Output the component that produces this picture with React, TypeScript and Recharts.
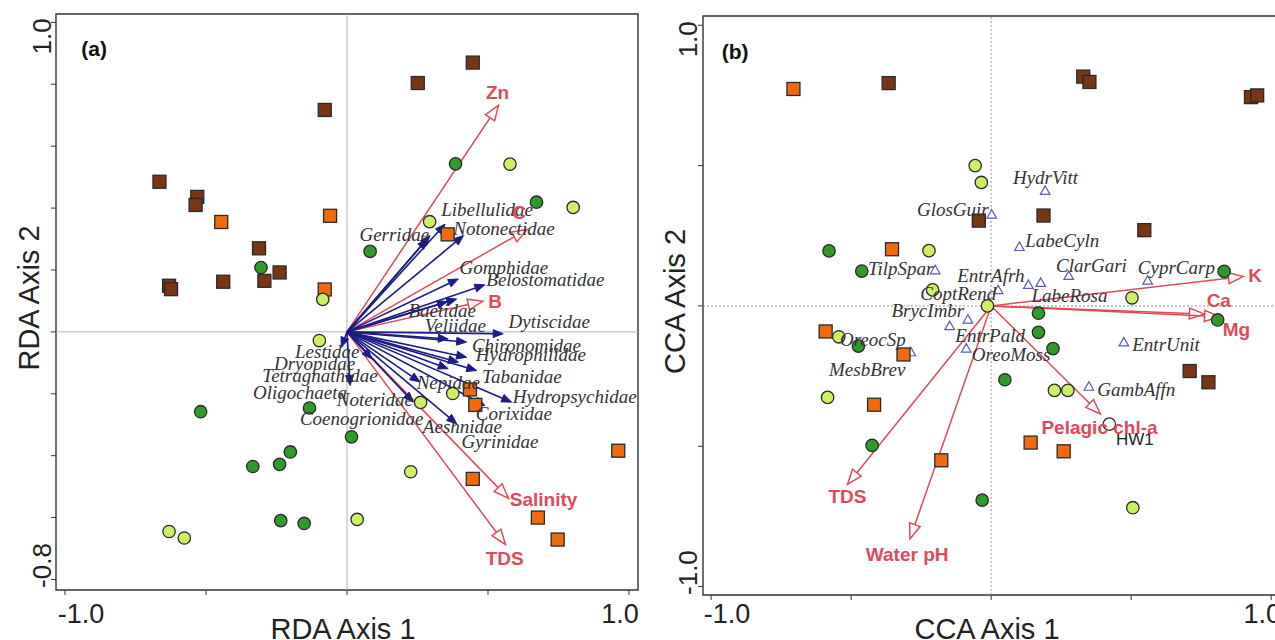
import React from 'react';
import { ScatterChart, Scatter, XAxis, YAxis, ReferenceLine, ReferenceArea } from 'recharts';

type Pt = { x: number; y: number };
type Lbl = { name: string; x: number; y: number; anchor?: 'start' | 'middle' | 'end' };

const SERIF = "'Liberation Serif', 'Times New Roman', serif";
const SANS = "'Liberation Sans', Arial, sans-serif";

const BROWN = '#7a3514';
const ORANGE = '#f26a0e';
const GREEN = '#2f9a2a';
const LIME = '#cdef66';
const NAVY = '#1c1c86';
const RED = '#e04a58';

// ---------- (a) RDA ----------
const rdaBrown: Pt[] = [
  { x: 0.446, y: 0.87 }, { x: 0.251, y: 0.804 }, { x: -0.079, y: 0.717 }, { x: -0.665, y: 0.485 },
  { x: -0.531, y: 0.436 }, { x: -0.537, y: 0.41 }, { x: -0.312, y: 0.27 }, { x: -0.239, y: 0.192 },
  { x: -0.293, y: 0.165 }, { x: -0.439, y: 0.162 }, { x: -0.631, y: 0.149 }, { x: -0.624, y: 0.138 },
];
const rdaOrange: Pt[] = [
  { x: -0.446, y: 0.355 }, { x: -0.06, y: 0.375 }, { x: -0.079, y: 0.137 }, { x: 0.357, y: 0.315 },
  { x: 0.436, y: -0.186 }, { x: 0.455, y: -0.236 }, { x: 0.962, y: -0.384 }, { x: 0.446, y: -0.475 },
  { x: 0.677, y: -0.6 }, { x: 0.747, y: -0.671 },
];
const rdaGreen: Pt[] = [
  { x: 0.385, y: 0.543 }, { x: 0.672, y: 0.419 }, { x: 0.082, y: 0.26 }, { x: -0.305, y: 0.208 },
  { x: -0.519, y: -0.258 }, { x: -0.133, y: -0.246 }, { x: 0.016, y: -0.339 }, { x: -0.201, y: -0.388 },
  { x: -0.334, y: -0.435 }, { x: -0.239, y: -0.428 }, { x: -0.235, y: -0.61 }, { x: -0.152, y: -0.619 },
];
const rdaLime: Pt[] = [
  { x: 0.578, y: 0.542 }, { x: 0.802, y: 0.402 }, { x: 0.293, y: 0.356 }, { x: -0.086, y: 0.105 },
  { x: -0.098, y: -0.028 }, { x: 0.375, y: -0.199 }, { x: 0.261, y: -0.228 }, { x: 0.226, y: -0.452 },
  { x: 0.036, y: -0.606 }, { x: -0.631, y: -0.645 }, { x: -0.577, y: -0.666 },
];
const rdaSpeciesTips: Pt[] = [
  { x: 0.348, y: 0.348 }, { x: 0.294, y: 0.311 }, { x: 0.285, y: 0.3 }, { x: 0.413, y: 0.311 },
  { x: 0.395, y: 0.171 }, { x: 0.489, y: 0.152 }, { x: 0.389, y: 0.106 }, { x: 0.356, y: 0.098 },
  { x: 0.554, y: -0.006 }, { x: 0.359, y: -0.023 }, { x: 0.424, y: -0.033 }, { x: 0.424, y: -0.082 },
  { x: 0.395, y: -0.098 }, { x: 0.46, y: -0.125 }, { x: 0.359, y: -0.119 }, { x: 0.259, y: -0.162 },
  { x: 0.584, y: -0.227 }, { x: 0.489, y: -0.238 }, { x: 0.235, y: -0.227 }, { x: 0.389, y: -0.297 },
  { x: 0.088, y: -0.087 }, { x: 0.011, y: -0.173 }, { x: -0.02, y: -0.05 },
];
const rdaSpeciesLabels: Lbl[] = [
  { name: 'Libellulidae', x: 0.334, y: 0.396 }, { name: 'Notonectidae', x: 0.377, y: 0.335 },
  { name: 'Gerridae', x: 0.044, y: 0.315 }, { name: 'Gomphidae', x: 0.399, y: 0.207 },
  { name: 'Belostomatidae', x: 0.494, y: 0.168 }, { name: 'Baetidae', x: 0.218, y: 0.069 },
  { name: 'Veliidae', x: 0.276, y: 0.022 }, { name: 'Dytiscidae', x: 0.573, y: 0.033 },
  { name: 'Chironomidae', x: 0.443, y: -0.044 }, { name: 'Hydrophilidae', x: 0.457, y: -0.074 },
  { name: 'Tabanidae', x: 0.479, y: -0.145 }, { name: 'Nepidae', x: 0.247, y: -0.162 },
  { name: 'Hydropsychidae', x: 0.588, y: -0.208 }, { name: 'Corixidae', x: 0.457, y: -0.265 },
  { name: 'Aeshnidae', x: 0.269, y: -0.305 }, { name: 'Gyrinidae', x: 0.406, y: -0.354 },
  { name: 'Lestidae', x: 0.044, y: -0.063, anchor: 'end' }, { name: 'Dryopidae', x: 0.029, y: -0.103, anchor: 'end' },
  { name: 'Tetragnathidae', x: 0.109, y: -0.142, anchor: 'end' }, { name: 'Oligochaeta', x: 0.0, y: -0.195, anchor: 'end' },
  { name: 'Noteridae', x: -0.036, y: -0.218 }, { name: 'Coenogrionidae', x: -0.167, y: -0.281 },
];
const rdaEnvTips: Pt[] = [
  { x: 0.537, y: 0.732 }, { x: 0.639, y: 0.331 }, { x: 0.482, y: 0.099 }, { x: 0.573, y: -0.538 }, { x: 0.562, y: -0.687 },
];
const rdaEnvLabels: Lbl[] = [
  { name: 'Zn', x: 0.534, y: 0.774, anchor: 'middle' }, { name: 'C', x: 0.61, y: 0.385, anchor: 'middle' },
  { name: 'B', x: 0.525, y: 0.099, anchor: 'middle' }, { name: 'Salinity', x: 0.697, y: -0.542, anchor: 'middle' },
  { name: 'TDS', x: 0.559, y: -0.732, anchor: 'middle' },
];
const rdaTag: Lbl[] = [{ name: '(a)', x: -0.897, y: 0.917, anchor: 'middle' }];
const rdaYTicks = [-0.8, -0.6, -0.4, -0.2, 0, 0.2, 0.4, 0.6, 0.8, 1.0];

// ---------- (b) CCA ----------
const ccaBrown: Pt[] = [
  { x: -0.366, y: 0.794 }, { x: 0.329, y: 0.817 }, { x: 0.351, y: 0.798 }, { x: 0.928, y: 0.744 },
  { x: 0.95, y: 0.75 }, { x: 0.187, y: 0.322 }, { x: -0.044, y: 0.304 }, { x: 0.547, y: 0.27 },
  { x: 0.709, y: -0.232 }, { x: 0.776, y: -0.272 },
];
const ccaOrange: Pt[] = [
  { x: -0.706, y: 0.773 }, { x: -0.354, y: 0.202 }, { x: -0.591, y: -0.091 }, { x: -0.313, y: -0.173 },
  { x: -0.418, y: -0.352 }, { x: -0.178, y: -0.55 }, { x: 0.141, y: -0.487 }, { x: 0.259, y: -0.518 },
];
const ccaGreen: Pt[] = [
  { x: -0.579, y: 0.196 }, { x: -0.462, y: 0.124 }, { x: -0.474, y: -0.143 }, { x: -0.425, y: -0.497 },
  { x: -0.032, y: -0.692 }, { x: 0.049, y: -0.263 }, { x: 0.169, y: -0.026 }, { x: 0.169, y: -0.094 },
  { x: 0.221, y: -0.152 }, { x: 0.832, y: 0.123 }, { x: 0.809, y: -0.05 },
];
const ccaLime: Pt[] = [
  { x: -0.057, y: 0.5 }, { x: -0.035, y: 0.44 }, { x: -0.222, y: 0.197 }, { x: -0.209, y: 0.057 },
  { x: -0.013, y: 0.0 }, { x: -0.544, y: -0.11 }, { x: -0.584, y: -0.326 }, { x: 0.226, y: -0.301 },
  { x: 0.274, y: -0.301 }, { x: 0.503, y: 0.029 }, { x: 0.506, y: -0.719 },
];
const ccaOpen: Pt[] = [{ x: 0.422, y: -0.421 }];
const ccaFish: Pt[] = [
  { x: 0.193, y: 0.41 }, { x: 0.002, y: 0.325 }, { x: 0.101, y: 0.21 }, { x: 0.277, y: 0.107 },
  { x: 0.559, y: 0.09 }, { x: -0.2, y: 0.127 }, { x: 0.025, y: 0.056 }, { x: 0.133, y: 0.075 },
  { x: 0.177, y: 0.082 }, { x: -0.083, y: -0.049 }, { x: -0.148, y: -0.072 }, { x: -0.089, y: -0.152 },
  { x: -0.287, y: -0.165 }, { x: 0.474, y: -0.13 }, { x: 0.349, y: -0.288 },
];
const ccaFishLabels: Lbl[] = [
  { name: 'HydrVitt', x: 0.078, y: 0.459 }, { name: 'GlosGuir', x: -0.265, y: 0.342 },
  { name: 'LabeCyln', x: 0.122, y: 0.232 }, { name: 'ClarGari', x: 0.232, y: 0.145 },
  { name: 'CyprCarp', x: 0.524, y: 0.137 }, { name: 'TilpSpar', x: -0.44, y: 0.134 },
  { name: 'EntrAfrh', x: -0.121, y: 0.11 }, { name: 'CoptRend', x: -0.253, y: 0.044 },
  { name: 'LabeRosa', x: 0.144, y: 0.037 }, { name: 'BrycImbr', x: -0.356, y: -0.015 },
  { name: 'EntrPald', x: -0.128, y: -0.107 }, { name: 'OreoMoss', x: -0.069, y: -0.173 },
  { name: 'OreocSp', x: -0.54, y: -0.121 }, { name: 'MesbBrev', x: -0.579, y: -0.228 },
  { name: 'EntrUnit', x: 0.504, y: -0.136 }, { name: 'GambAffn', x: 0.379, y: -0.297 },
];
const ccaSiteLabels: Lbl[] = [{ name: 'HW1', x: 0.446, y: -0.477 }];
const ccaEnvTips: Pt[] = [
  { x: 0.901, y: 0.105 }, { x: 0.762, y: -0.029 }, { x: 0.816, y: -0.038 },
  { x: 0.39, y: -0.385 }, { x: -0.513, y: -0.636 }, { x: -0.29, y: -0.83 },
];
const ccaEnvLabels: Lbl[] = [
  { name: 'K', x: 0.943, y: 0.108, anchor: 'middle' }, { name: 'Ca', x: 0.813, y: 0.02, anchor: 'middle' },
  { name: 'Mg', x: 0.876, y: -0.085, anchor: 'middle' }, { name: 'Pelagic chl-a', x: 0.387, y: -0.433, anchor: 'middle' },
  { name: 'TDS', x: -0.513, y: -0.68, anchor: 'middle' }, { name: 'Water pH', x: -0.3, y: -0.885, anchor: 'middle' },
];
const ccaTag: Lbl[] = [{ name: '(b)', x: -0.914, y: 0.906, anchor: 'middle' }];
const ccaYTicks = [-1.0, -0.5, 0, 0.5, 1.0];
const xTicks = [-1.0, -0.5, 0, 0.5, 1.0];

// ---------- shapes ----------
const square = (fill: string) => (p: any) => (
  <rect x={p.cx - 6.5} y={p.cy - 6.5} width={13} height={13} fill={fill} stroke="#2a2a2a" strokeWidth={1.3} />
);
const dot = (fill: string) => (p: any) => (
  <circle cx={p.cx} cy={p.cy} r={6.2} fill={fill} stroke="#2a2a2a" strokeWidth={1.3} />
);
const triangle = (p: any) => (
  <polygon
    points={`${p.cx},${p.cy - 5} ${p.cx - 4.8},${p.cy + 3.5} ${p.cx + 4.8},${p.cy + 3.5}`}
    fill="#fff"
    stroke="#5a5ab4"
    strokeWidth={1.2}
  />
);
const textShape = (style: any) => (p: any) => (
  <text x={p.cx} y={p.cy} textAnchor={p.payload.anchor ?? 'start'} dominantBaseline="central" {...style}>
    {p.payload.name}
  </text>
);
const speciesText = textShape({ fontFamily: SERIF, fontStyle: 'italic', fontSize: 19, fill: '#333' });
const envText = textShape({ fontFamily: SANS, fontWeight: 'bold', fontSize: 19, fill: RED });
const tagText = textShape({ fontFamily: SANS, fontWeight: 'bold', fontSize: 21, fill: '#111' });
const plainText = textShape({ fontFamily: SANS, fontSize: 17, fill: '#222' });

const arrow = (kind: 'species' | 'env') => (p: any) => {
  const { x1, y1, x2, y2 } = p;
  const a = Math.atan2(y2 - y1, x2 - x1);
  const len = kind === 'env' ? 15 : 10;
  const hw = kind === 'env' ? 5.5 : 4;
  const bx = x2 - len * Math.cos(a);
  const by = y2 - len * Math.sin(a);
  const nx = -Math.sin(a) * hw;
  const ny = Math.cos(a) * hw;
  const head = `${x2},${y2} ${bx + nx},${by + ny} ${bx - nx},${by - ny}`;
  if (kind === 'env') {
    return (
      <g>
        <line x1={x1} y1={y1} x2={bx} y2={by} stroke={RED} strokeWidth={1.5} />
        <polygon points={head} fill="#fff" stroke={RED} strokeWidth={1.5} />
      </g>
    );
  }
  return (
    <g>
      <line x1={x1} y1={y1} x2={bx} y2={by} stroke={NAVY} strokeWidth={1.6} />
      <polygon points={head} fill={NAVY} stroke={NAVY} strokeWidth={1} />
    </g>
  );
};
const speciesArrow = arrow('species');
const envArrow = arrow('env');

const makeXTick = (baseline: number) => (p: any) => {
  const v = p.payload.value;
  if (v !== -1 && v !== 1) return <g />;
  const dx = v === -1 ? 16 : -9;
  return (
    <text x={p.x + dx} y={baseline} textAnchor="middle" fontSize={27} fontFamily={SANS} fill="#222">
      {v.toFixed(1)}
    </text>
  );
};
const makeYTick = (lo: number, hi: number, baselineX: number) => (p: any) => {
  const v = p.payload.value;
  if (v !== lo && v !== hi) return <g />;
  const shift = v === hi ? 14 : -14;
  return (
    <text
      transform={`translate(${baselineX},${p.y + shift}) rotate(-90)`}
      textAnchor="middle"
      fontSize={26}
      fontFamily={SANS}
      fill="#222"
    >
      {v.toFixed(1)}
    </text>
  );
};

type PanelProps = {
  width: number;
  margin: { top: number; right: number; bottom: number; left: number };
  yAxisWidth: number;
  xAxisHeight: number;
  xDomain: [number, number];
  yDomain: [number, number];
  yTicks: number[];
  xTitle: string;
  yTitle: string;
  dashed: boolean;
  tickBaseline: number;
  yTickX: number;
  yTitleX: number;
  envTips: Pt[];
  speciesTips: Pt[];
  brown: Pt[];
  orange: Pt[];
  green: Pt[];
  lime: Pt[];
  open: Pt[];
  fish: Pt[];
  speciesLabels: Lbl[];
  envLabels: Lbl[];
  siteLabels: Lbl[];
  tag: Lbl[];
};

function Biplot(P: PanelProps) {
  const zeroStroke = P.dashed ? { stroke: '#9a9a9a', strokeDasharray: '2 2' } : { stroke: '#b5b5b5' };
  return (
    <ScatterChart width={P.width} height={640} margin={P.margin}>
      <XAxis
        type="number"
        dataKey="x"
        domain={P.xDomain}
        ticks={xTicks}
        allowDataOverflow
        axisLine={false}
        tickSize={5}
        tickLine={{ stroke: '#333' }}
        tick={makeXTick(P.tickBaseline)}
        height={P.xAxisHeight}
        label={{
          content: (l: any) => {
            const vb = l.viewBox || { x: 0, y: 0, width: 0 };
            return (
              <text x={vb.x + vb.width / 2 - 4} y={639} textAnchor="middle" fontSize={29} fontFamily={SANS} fill="#222">
                {P.xTitle}
              </text>
            );
          },
        }}
      />
      <YAxis
        type="number"
        dataKey="y"
        domain={P.yDomain}
        ticks={P.yTicks}
        allowDataOverflow
        axisLine={false}
        tickSize={5}
        tickLine={{ stroke: '#333' }}
        tick={makeYTick(P.yTicks[0], P.yTicks[P.yTicks.length - 1], P.yTickX)}
        width={P.yAxisWidth}
        label={{
          content: (l: any) => {
            const vb = l.viewBox || { x: 0, y: 0, height: 0 };
            return (
              <text
                transform={`translate(${P.yTitleX},${vb.y + vb.height / 2 - 4}) rotate(-90)`}
                textAnchor="middle"
                fontSize={29}
                fontFamily={SANS}
                fill="#222"
              >
                {P.yTitle}
              </text>
            );
          },
        }}
      />
      <ReferenceArea
        x1={P.xDomain[0]}
        x2={P.xDomain[1]}
        y1={P.yDomain[0]}
        y2={P.yDomain[1]}
        fill="none"
        fillOpacity={0}
        stroke="#333"
        strokeWidth={1.4}
        ifOverflow="visible"
      />
      <ReferenceLine x={0} strokeWidth={1} {...zeroStroke} />
      <ReferenceLine y={0} strokeWidth={1} {...zeroStroke} />
      {P.envTips.map((t, i) => (
        <ReferenceLine key={'e' + i} segment={[{ x: 0, y: 0 }, t]} ifOverflow="visible" shape={envArrow} />
      ))}
      {P.speciesTips.map((t, i) => (
        <ReferenceLine key={'s' + i} segment={[{ x: 0, y: 0 }, t]} ifOverflow="visible" shape={speciesArrow} />
      ))}
      <Scatter data={P.fish} shape={triangle} isAnimationActive={false} />
      <Scatter data={P.brown} shape={square(BROWN)} isAnimationActive={false} />
      <Scatter data={P.orange} shape={square(ORANGE)} isAnimationActive={false} />
      <Scatter data={P.green} shape={dot(GREEN)} isAnimationActive={false} />
      <Scatter data={P.lime} shape={dot(LIME)} isAnimationActive={false} />
      <Scatter data={P.open} shape={dot('#fff')} isAnimationActive={false} />
      <Scatter data={P.speciesLabels} shape={speciesText} isAnimationActive={false} />
      <Scatter data={P.siteLabels} shape={plainText} isAnimationActive={false} />
      <Scatter data={P.envLabels} shape={envText} isAnimationActive={false} />
      <Scatter data={P.tag} shape={tagText} isAnimationActive={false} />
    </ScatterChart>
  );
}

export default function App() {
  return (
    <div style={{ position: 'absolute', left: 0, top: 0, width: 1275, height: 640, overflow: 'hidden', background: '#fff' }}>
      <div style={{ position: 'absolute', left: 0, top: 0 }}>
        <Biplot
          width={640}
          margin={{ top: 14, right: 2, bottom: 0, left: 0 }}
          yAxisWidth={56}
          xAxisHeight={50}
          xDomain={[-1.032, 1.032]}
          yDomain={[-0.834, 1.027]}
          yTicks={rdaYTicks}
          xTitle="RDA Axis 1"
          yTitle="RDA Axis 2"
          dashed={false}
          tickBaseline={623}
          yTickX={51}
          yTitleX={39}
          envTips={rdaEnvTips}
          speciesTips={rdaSpeciesTips}
          brown={rdaBrown}
          orange={rdaOrange}
          green={rdaGreen}
          lime={rdaLime}
          open={[]}
          fish={[]}
          speciesLabels={rdaSpeciesLabels}
          envLabels={rdaEnvLabels}
          siteLabels={[]}
          tag={rdaTag}
        />
      </div>
      <div style={{ position: 'absolute', left: 640, top: 0 }}>
        <Biplot
          width={645}
          margin={{ top: 16, right: 6, bottom: 0, left: 0 }}
          yAxisWidth={63}
          xAxisHeight={45}
          xDomain={[-1.029, 1.028]}
          yDomain={[-1.03, 1.033]}
          yTicks={ccaYTicks}
          xTitle="CCA Axis 1"
          yTitle="CCA Axis 2"
          dashed
          tickBaseline={623}
          yTickX={57}
          yTitleX={45}
          envTips={ccaEnvTips}
          speciesTips={[]}
          brown={ccaBrown}
          orange={ccaOrange}
          green={ccaGreen}
          lime={ccaLime}
          open={ccaOpen}
          fish={ccaFish}
          speciesLabels={ccaFishLabels}
          envLabels={ccaEnvLabels}
          siteLabels={ccaSiteLabels}
          tag={ccaTag}
        />
      </div>
    </div>
  );
}
